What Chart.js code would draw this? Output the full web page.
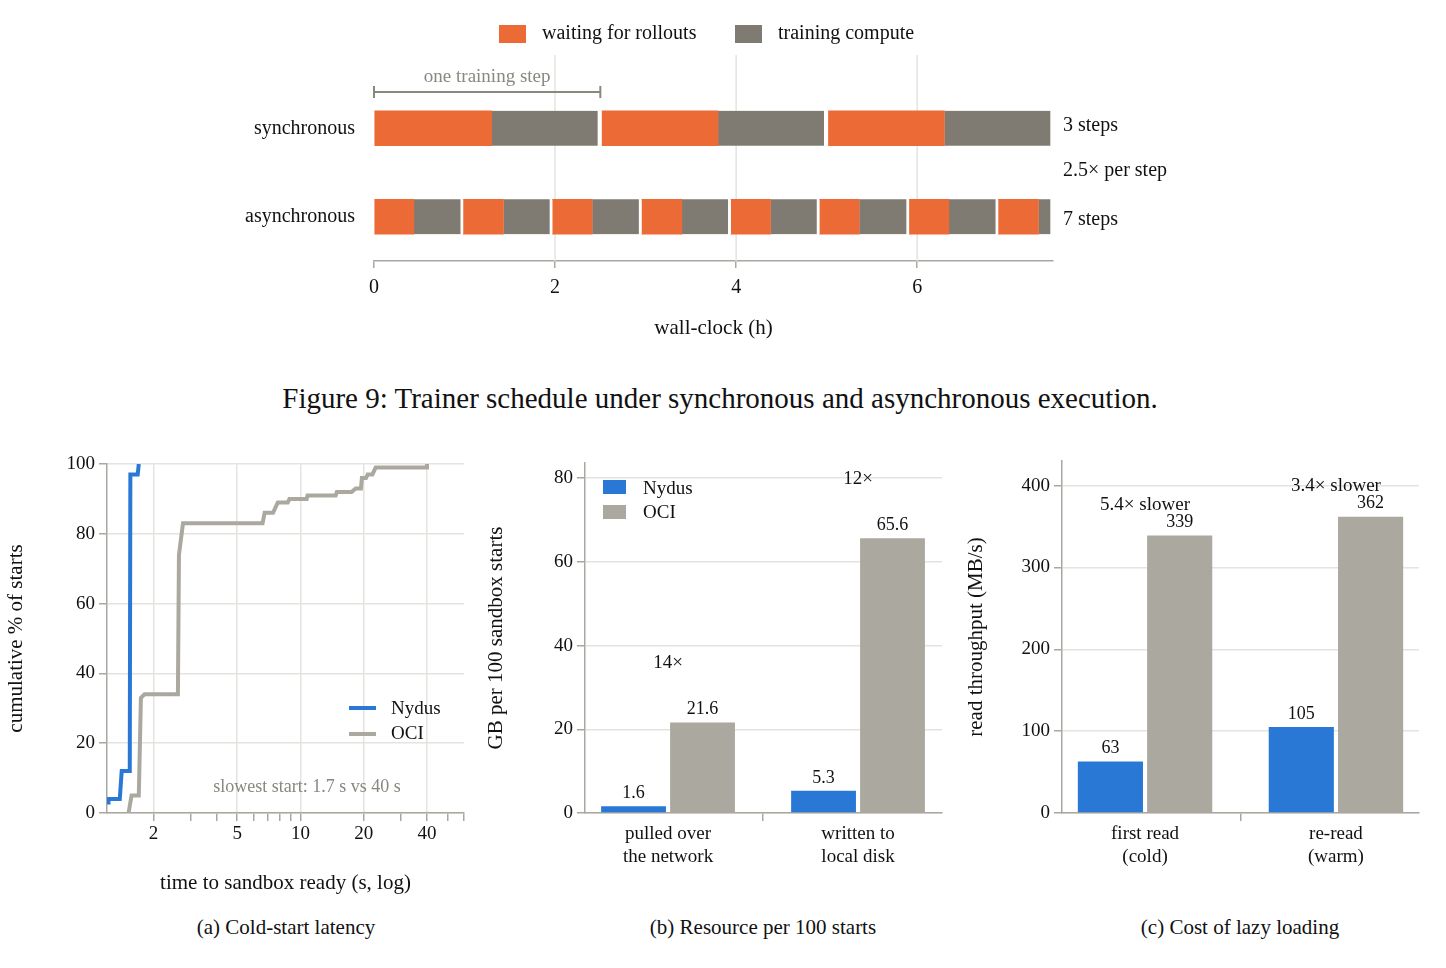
<!DOCTYPE html>
<html><head><meta charset="utf-8">
<script src="https://cdn.jsdelivr.net/npm/chart.js@4"></script>
<style>
body{margin:0;width:1446px;height:968px;background:#fff;font-family:"Liberation Serif",serif;color:#111;position:relative;overflow:hidden}
.box{position:absolute}
.t{position:absolute;white-space:nowrap;font-size:20px}
.c{transform:translateX(-50%)}
</style></head><body>
<div class="box" style="left:0;top:0;width:1446px;height:345px"><canvas id="c0"></canvas></div>
<div class="box" style="left:0;top:440px;width:480px;height:460px"><canvas id="c1"></canvas></div>
<div class="box" style="left:480px;top:440px;width:490px;height:460px"><canvas id="c2"></canvas></div>
<div class="box" style="left:960px;top:440px;width:486px;height:460px"><canvas id="c3"></canvas></div>

<div class="t" style="left:499px;top:25px;width:27px;height:18px;background:#EC6A35"></div>
<div class="t" style="left:542px;top:21px">waiting for rollouts</div>
<div class="t" style="left:735px;top:25px;width:27px;height:18px;background:#7F7B72"></div>
<div class="t" style="left:778px;top:21px">training compute</div>
<div class="t" style="left:1063px;top:113px">3 steps</div>
<div class="t" style="left:1063px;top:158px">2.5× per step</div>
<div class="t" style="left:1063px;top:207px">7 steps</div>
<div class="t c" style="left:720px;top:382px;font-size:29px">Figure 9: Trainer schedule under synchronous and asynchronous execution.</div>

<div class="t" style="left:349px;top:706px;width:27px;height:4px;background:#2A78D6"></div>
<div class="t" style="left:391px;top:697px;font-size:19px">Nydus</div>
<div class="t" style="left:349px;top:732px;width:27px;height:4px;background:#ABA8A0"></div>
<div class="t" style="left:391px;top:722px;font-size:19px">OCI</div>
<div class="t c" style="left:307px;top:776px;font-size:18px;color:#8a877f">slowest start: 1.7 s vs 40 s</div>
<div class="t" style="left:603px;top:480px;width:23px;height:14px;background:#2A78D6"></div>
<div class="t" style="left:643px;top:477px;font-size:19px">Nydus</div>
<div class="t" style="left:603px;top:505px;width:23px;height:14px;background:#ABA8A0"></div>
<div class="t" style="left:643px;top:501px;font-size:19px">OCI</div>

<div class="t c" style="left:286px;top:915px;font-size:21px">(a) Cold-start latency</div>
<div class="t c" style="left:763px;top:915px;font-size:21px">(b) Resource per 100 starts</div>
<div class="t c" style="left:1240px;top:915px;font-size:21px">(c) Cost of lazy loading</div>

<script>
const ORANGE='#EC6A35', DGRAY='#7F7B72', BLUE='#2A78D6', LGRAY='#ABA8A0';
const GRID='#e4e4df', AXIS='#a9a7a0', FONT='Liberation Serif';

// Top schedule (hours)
const rows=['synchronous','asynchronous'];
const syncWaiting=[[0,1.3],[2.52,3.8],[5.02,6.3]];
const syncCompute=[[1.3,2.5],[3.8,5.0],[6.3,7.5]];
const asyncWaiting=[[0,0.44],[0.985,1.43],[1.97,2.41],[2.955,3.40],[3.94,4.38],[4.92,5.36],[5.91,6.35],[6.895,7.34]];
const asyncCompute=[[0.44,0.985],[1.43,1.97],[2.41,2.955],[3.40,3.94],[4.38,4.92],[5.36,5.91],[6.35,6.895],[7.34,7.5]];
const scheduleTicks=[0,2,4,6];
const stepSpan=[0,2.5];

// (a) CDF of time to sandbox ready (s, cumulative %)
const nydusCdf=[[1.18,3],[1.22,3],[1.22,4],[1.38,4],[1.41,12],[1.54,12],[1.55,97],[1.68,97],[1.70,100]];
const ociCdf=[[1.52,0],[1.57,5],[1.70,5],[1.74,33],[1.81,34],[2.61,34],[2.64,74],[2.76,83],[6.6,83],[6.75,86],[7.4,86],[7.8,89],[8.7,89],[8.86,90],[10.7,90],[10.8,91],[14.7,91],[14.9,92],[17.5,92],[18.3,93],[19.4,93],[19.6,96],[20.5,96],[20.9,97],[22,97],[22.8,99],[40,99],[40,100]];
const cdfTicks=[2,3,4,5,6,7,8,9,10,20,30,40,50,60];
const cdfLabels=[2,5,10,20,40];

// (b) GB per 100 starts
const resCats=[['pulled over','the network'],['written to','local disk']];
const resNydus=[1.6,5.3];
const resOci=[21.6,65.6];
const resRatios=['14×','12×'];
const resRatioY=[36,80];

// (c) read throughput
const lazyCats=[['first read','(cold)'],['re-read','(warm)']];
const lazyNydus=[63,105];
const lazyOci=[339,362];
const lazyRatios=['5.4× slower','3.4× slower'];
const lazyRatioY=[377,400];

Chart.defaults.font.family=FONT;
Chart.defaults.color='#111';
Chart.defaults.animation=false;

// ---- top chart
const ds=[];
for(let i=0;i<8;i++){
  ds.push({label:'w',data:[syncWaiting[i]||null,asyncWaiting[i]],backgroundColor:ORANGE,grouped:false,barThickness:35,borderWidth:0});
  ds.push({label:'c',data:[syncCompute[i]||null,asyncCompute[i]],backgroundColor:DGRAY,grouped:false,barThickness:35,borderColor:'#fff',borderSkipped:false,borderWidth:{left:0,top:0,bottom:0,right:3}});
}
new Chart(document.getElementById('c0'),{type:'bar',data:{labels:rows,datasets:ds},
 options:{indexAxis:'y',responsive:true,maintainAspectRatio:false,
  layout:{padding:{top:84,right:393,left:0,bottom:0}},
  plugins:{legend:{display:false},tooltip:{enabled:false}},
  scales:{
   x:{min:0,max:7.5,afterBuildTicks:s=>{s.ticks=scheduleTicks.map(v=>({value:v}));},
      afterFit:s=>{s.height=84;},
      grid:{drawOnChartArea:false,tickLength:7,tickColor:AXIS,lineWidth:1.5},border:{color:AXIS,width:1.5},
      ticks:{font:{size:20},padding:8,maxRotation:0},
      title:{display:true,text:'wall-clock (h)',font:{size:21},padding:{top:4}}},
   y:{afterFit:s=>{s.width=374;},grid:{display:false},border:{display:false},ticks:{font:{size:20},padding:11}}
  }},
 plugins:[{id:'deco',beforeDatasetsDraw(ch){
   const c=ch.ctx,x=ch.scales.x;c.save();c.strokeStyle=GRID;c.lineWidth=1.5;
   scheduleTicks.slice(1).forEach(v=>{const p=x.getPixelForValue(v);c.beginPath();c.moveTo(p,55);c.lineTo(p,ch.chartArea.bottom);c.stroke();});
   const a=x.getPixelForValue(stepSpan[0]),b=x.getPixelForValue(stepSpan[1]);
   c.strokeStyle='#8a877f';c.lineWidth=2;c.beginPath();c.moveTo(a,92);c.lineTo(b,92);c.moveTo(a,86);c.lineTo(a,98);c.moveTo(b,86);c.lineTo(b,98);c.stroke();
   c.fillStyle='#8a877f';c.font='19px '+FONT;c.textAlign='center';c.textBaseline='alphabetic';c.fillText('one training step',(a+b)/2,82);
   c.restore();}}]
});

// ---- (a)
new Chart(document.getElementById('c1'),{type:'line',
 data:{datasets:[
  {label:'Nydus',data:nydusCdf.map(p=>({x:p[0],y:p[1]})),borderColor:BLUE,borderWidth:4,pointRadius:0},
  {label:'OCI',data:ociCdf.map(p=>({x:p[0],y:p[1]})),borderColor:LGRAY,borderWidth:4,pointRadius:0}]},
 options:{responsive:true,maintainAspectRatio:false,parsing:false,
  layout:{padding:{top:24,right:16}},
  plugins:{legend:{display:false},tooltip:{enabled:false}},
  scales:{
   x:{type:'logarithmic',min:1.2,max:60,afterBuildTicks:s=>{s.ticks=cdfTicks.map(v=>({value:v}));},
      afterFit:s=>{s.height=87;},
      grid:{color:c=>cdfLabels.includes(c.tick&&c.tick.value)?GRID:'rgba(0,0,0,0)',tickColor:AXIS,tickLength:8,lineWidth:1.5},
      border:{color:AXIS,width:1.5},
      ticks:{autoSkip:false,maxRotation:0,font:{size:19},padding:2,callback:v=>cdfLabels.includes(v)?String(v):''},
      title:{display:true,text:'time to sandbox ready (s, log)',font:{size:21},padding:{top:4}}},
   y:{min:0,max:100,afterFit:s=>{s.width=107;},
      afterBuildTicks:s=>{s.ticks=[0,20,40,60,80,100].map(v=>({value:v}));},
      grid:{color:GRID,tickColor:AXIS,tickLength:8,lineWidth:1.5},border:{color:AXIS,width:1.5},
      ticks:{font:{size:19},padding:4},
      title:{display:true,text:'cumulative % of starts',font:{size:21},padding:{bottom:6}}}
  }}});

// ---- bar helper
function barChart(id,cats,nyd,oci,ymax,yticks,ratios,ratioY,yTitle,padTop,yw,padRight,xmin,xmax){
 new Chart(document.getElementById(id),{type:'bar',
  data:{datasets:[
   {label:'Nydus',data:nyd.map((v,i)=>({x:i,y:v})),backgroundColor:BLUE,categoryPercentage:0.726,barPercentage:0.94},
   {label:'OCI',data:oci.map((v,i)=>({x:i,y:v})),backgroundColor:LGRAY,categoryPercentage:0.726,barPercentage:0.94}]},
  options:{responsive:true,maintainAspectRatio:false,
   layout:{padding:{top:padTop,right:padRight}},
   plugins:{legend:{display:false},tooltip:{enabled:false}},
   scales:{
    x:{type:'linear',min:xmin,max:xmax,offset:false,afterBuildTicks:s=>{s.ticks=[0,1].map(v=>({value:v}));},
       afterFit:s=>{s.height=87;},
       grid:{drawOnChartArea:false,tickColor:AXIS,tickLength:8,lineWidth:1.5},border:{color:AXIS,width:1.5},
       ticks:{font:{size:19},padding:2,maxRotation:0,callback:v=>cats[v]||''}},
    y:{min:0,max:ymax,afterFit:s=>{s.width=yw;},afterBuildTicks:s=>{s.ticks=yticks.map(v=>({value:v}));},
       grid:{color:GRID,tickColor:AXIS,tickLength:8,lineWidth:1.5},border:{color:AXIS,width:1.5},
       ticks:{font:{size:19},padding:4},
       title:{display:true,text:yTitle,font:{size:21},padding:{bottom:8}}}
   }},
  plugins:[{id:'lbl',afterDatasetsDraw(ch){
    const c=ch.ctx;c.save();c.fillStyle='#111';c.font='18px '+FONT;c.textAlign='center';c.textBaseline='bottom';
    ch.data.datasets.forEach((d,di)=>{ch.getDatasetMeta(di).data.forEach((el,i)=>{c.fillText(String(d.data[i].y),el.x,el.y-4);});});
    c.font='19px '+FONT;
    ratios.forEach((r,i)=>{c.fillText(r,ch.scales.x.getPixelForValue(i),ch.scales.y.getPixelForValue(ratioY[i])+10);});
    c.restore();}}]
 });
}
barChart('c2',resCats,resNydus,resOci,83.6,[0,20,40,60,80],resRatios,resRatioY,'GB per 100 sandbox starts',23,105,28,-0.437,1.442);
barChart('c3',lazyCats,lazyNydus,lazyOci,430,[0,100,200,300,400],lazyRatios,lazyRatioY,'read throughput (MB/s)',21,102,27,-0.435,1.435);
</script>
</body></html>
